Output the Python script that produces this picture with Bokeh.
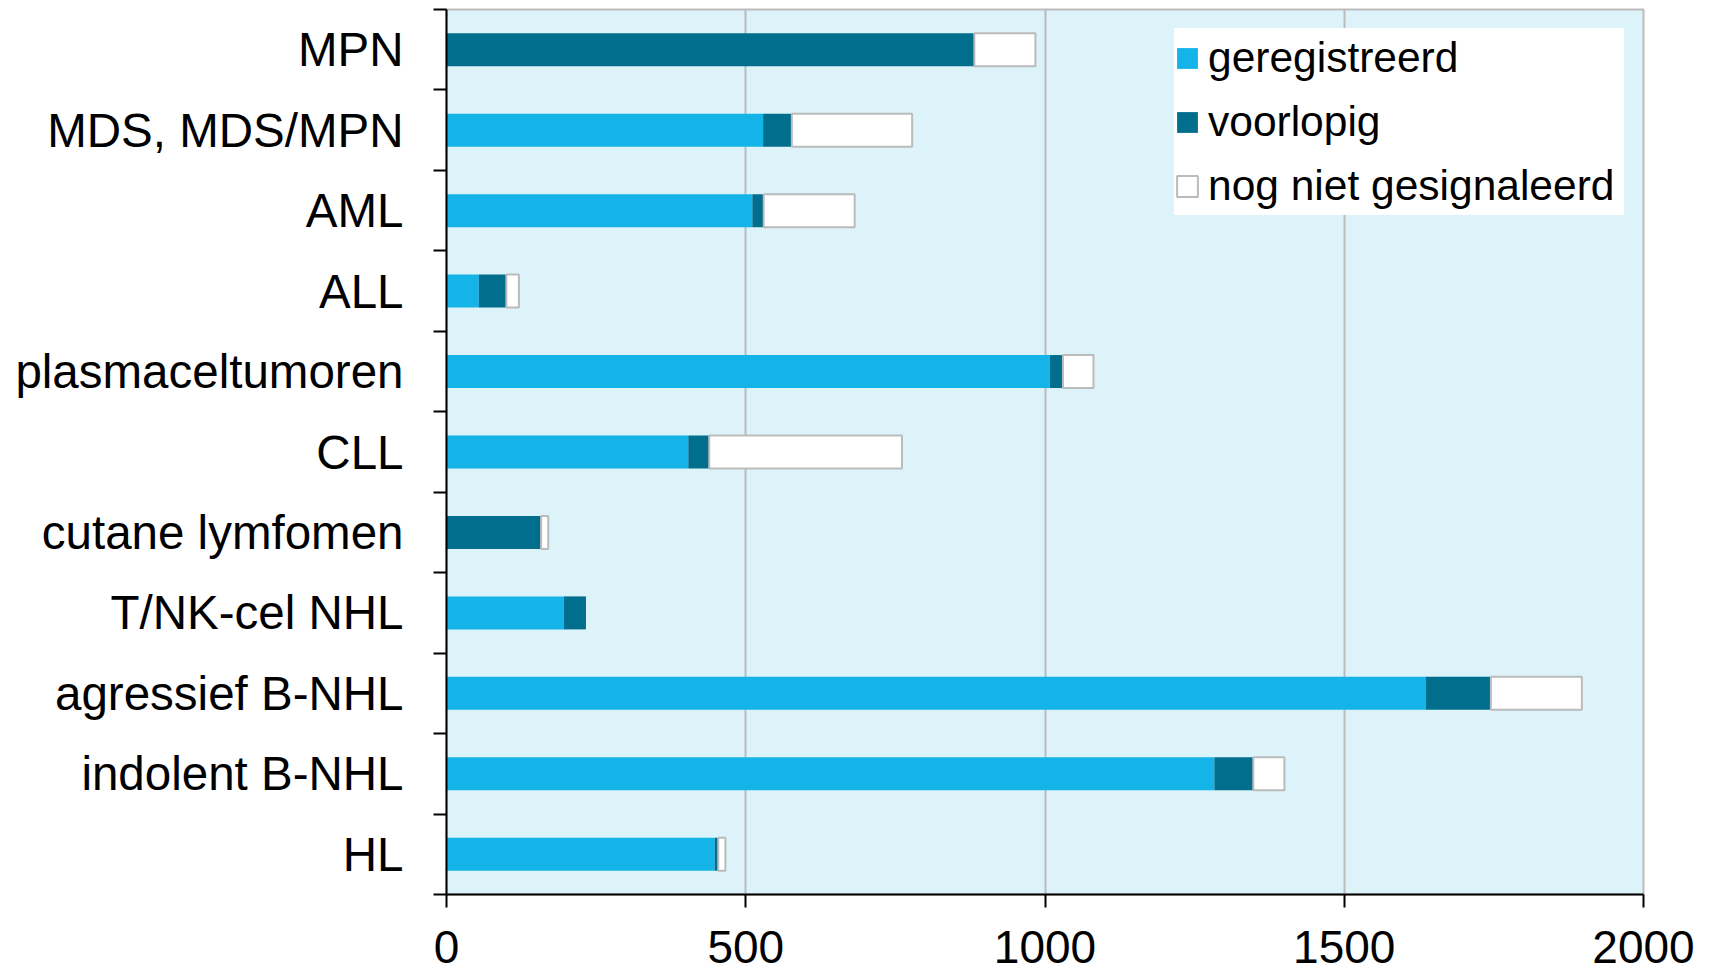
from bokeh.plotting import figure
from bokeh.models import ColumnDataSource, Range1d, FixedTicker
from bokeh.embed import file_html
from bokeh.resources import INLINE

categories = ["HL", "indolent B-NHL", "agressief B-NHL", "T/NK-cel NHL", "cutane lymfomen",
              "CLL", "plasmaceltumoren", "ALL", "AML", "MDS, MDS/MPN", "MPN"]
geregistreerd = [448, 1283, 1636, 196, 0, 404, 1008, 54, 511, 529, 0]
voorlopig = [6, 65, 109, 37, 158, 35, 22, 46, 19, 48, 882]
nog_niet = [12, 52, 152, 0, 12, 322, 51, 21, 152, 201, 102]
x_ticks = [0, 500, 1000, 1500, 2000]
series_labels = ["geregistreerd", "voorlopig", "nog niet gesignaleerd"]

FONT = "Liberation Sans"
C_REG = "#14B4E8"
C_VOOR = "#006E8C"
C_GREY = "#BBBBBB"

n = len(categories)
y = [i + 0.5 for i in range(n)]
end1 = [g for g in geregistreerd]
end2 = [g + v for g, v in zip(geregistreerd, voorlopig)]
end3 = [g + v + w for g, v, w in zip(geregistreerd, voorlopig, nog_niet)]

src_reg = ColumnDataSource(dict(y=y, left=[0] * n, right=end1))
src_voor = ColumnDataSource(dict(y=y, left=end1, right=end2))
keep = [i for i in range(n) if nog_niet[i] > 0]
src_nog = ColumnDataSource(dict(y=[y[i] for i in keep], left=[end2[i] for i in keep],
                                right=[end3[i] for i in keep]))

p = figure(width=1712, height=971, output_backend="svg", toolbar_location=None,
           x_range=Range1d(0, 2000), y_range=Range1d(0, n),
           min_border_left=446, min_border_right=69, min_border_top=9, min_border_bottom=77)

BH = 0.41
p.hbar(y="y", left="left", right="right", height=BH, source=src_reg,
       fill_color=C_REG, line_color=None, legend_label=series_labels[0])
p.hbar(y="y", left="left", right="right", height=BH, source=src_voor,
       fill_color=C_VOOR, line_color=None, legend_label=series_labels[1])
p.hbar(y="y", left="left", right="right", height=BH, source=src_nog,
       fill_color="white", line_color=C_GREY, line_width=2, legend_label=series_labels[2])

p.background_fill_color = "#DCF3FA"
p.border_fill_color = "white"
p.outline_line_color = C_GREY
p.outline_line_width = 2

p.ygrid.visible = False
p.xgrid.grid_line_color = C_GREY
p.xgrid.grid_line_width = 2

xa = p.xaxis[0]
xa.ticker = FixedTicker(ticks=x_ticks)
xa.axis_line_color = "black"
xa.axis_line_width = 2
xa.major_tick_out = 13
xa.major_tick_in = 0
xa.major_tick_line_width = 2
xa.minor_tick_line_color = None
xa.major_label_text_font = FONT
xa.major_label_text_font_size = "46px"
xa.major_label_text_color = "black"
xa.major_label_standoff = 23

ya = p.yaxis[0]
ya.ticker = FixedTicker(ticks=y, minor_ticks=list(range(n + 1)))
ya.major_label_overrides = {yy: c for yy, c in zip(y, categories)}
ya.axis_line_color = "black"
ya.axis_line_width = 2
ya.major_tick_out = 0
ya.major_tick_in = 0
ya.major_tick_line_color = None
ya.minor_tick_out = 13
ya.minor_tick_in = 0
ya.minor_tick_line_color = "black"
ya.minor_tick_line_width = 2
ya.major_label_text_font = FONT
ya.major_label_text_font_size = "47.5px"
ya.major_label_text_color = "black"
ya.major_label_standoff = 30

lg = p.legend[0]
lg.location = "top_right"
lg.margin = 19
lg.padding = 0
lg.spacing = 5
lg.label_standoff = 8
lg.label_height = 59
lg.label_width = 416
lg.glyph_width = 26
lg.glyph_height = 26
lg.label_text_font = FONT
lg.label_text_font_size = "42.5px"
lg.label_text_color = "black"
lg.border_line_color = None
lg.background_fill_color = "white"
lg.background_fill_alpha = 1.0

open("out.html", "w").write(file_html(p, INLINE))
